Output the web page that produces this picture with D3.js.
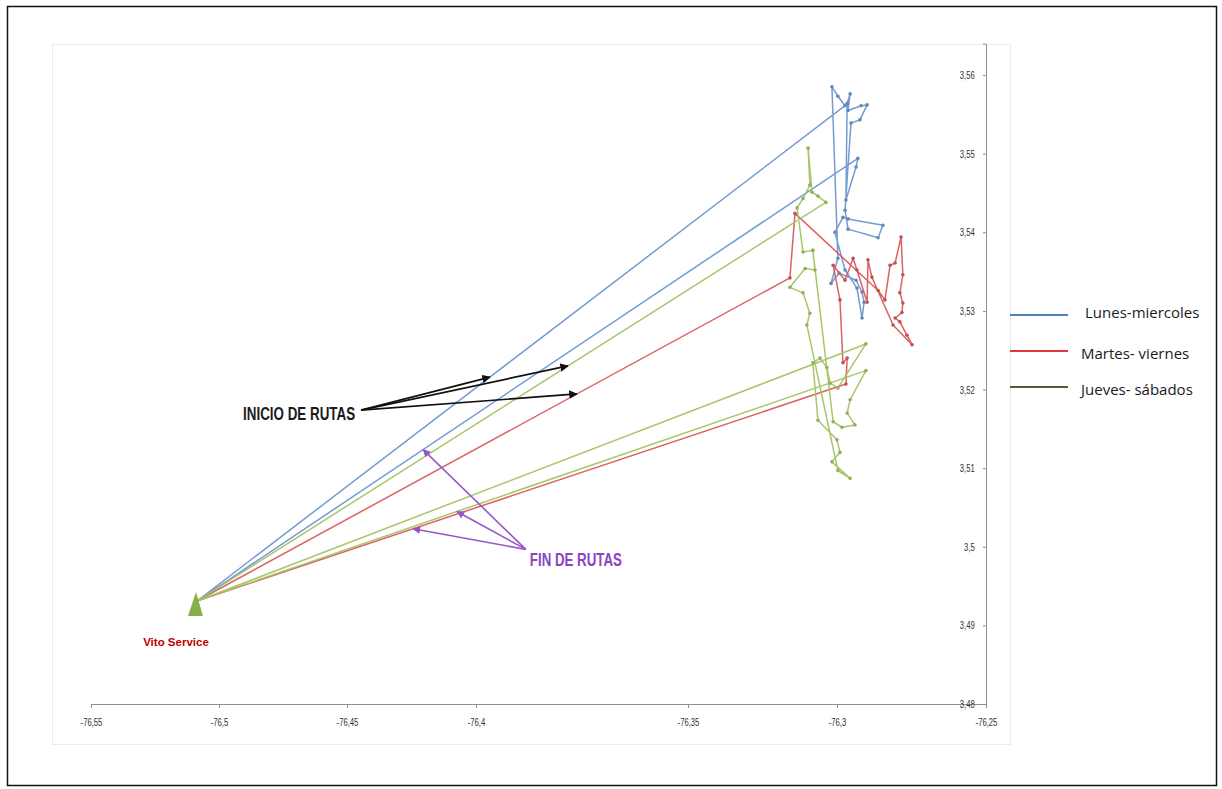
<!DOCTYPE html>
<html>
<head>
<meta charset="utf-8">
<script src="https://cdn.jsdelivr.net/npm/d3@7"></script>
<style>
  body { margin: 0; background: #fff; }
  svg { display: block; font-family: "Liberation Sans", Arial, sans-serif; }
</style>
</head>
<body>
<svg id="chart" width="1222" height="789"></svg>
<script>
// Axis ticks (longitude / latitude)
const xTicks = [-76.55, -76.5, -76.45, -76.4, -76.35, -76.3, -76.25];
const yTicks = [3.48, 3.49, 3.5, 3.51, 3.52, 3.53, 3.54, 3.55, 3.56];

// Depot
const depot = [-76.5086, 3.4931];
const depotName = "Vito Service";

// Route stops per day group, [longitude, latitude]; routes leave from and return to the depot
const lunesMiercoles = [
  depot,
  [-76.2973, 3.5561], [-76.2997, 3.5573], [-76.3017, 3.5585], [-76.2997, 3.5367],
  [-76.3020, 3.5335], [-76.2993, 3.5348], [-76.2936, 3.5339], [-76.2916, 3.5324],
  [-76.2909, 3.5311], [-76.2916, 3.5291], [-76.2933, 3.5329], [-76.2973, 3.5352],
  [-76.3007, 3.5400], [-76.2980, 3.5419], [-76.2963, 3.5417], [-76.2846, 3.5409],
  [-76.2862, 3.5393], [-76.2963, 3.5404], [-76.2973, 3.5428], [-76.2953, 3.5539],
  [-76.2923, 3.5543], [-76.2899, 3.5562], [-76.2919, 3.5561], [-76.2963, 3.5555],
  [-76.2956, 3.5576], [-76.2966, 3.5564], [-76.2970, 3.5441], [-76.2936, 3.5483],
  [-76.2930, 3.5494],
  depot
];

const martesViernes = [
  depot,
  [-76.3158, 3.5342], [-76.3141, 3.5424], [-76.2862, 3.5326], [-76.2839, 3.5314],
  [-76.2822, 3.5358], [-76.2805, 3.5361], [-76.2785, 3.5394], [-76.2779, 3.5346],
  [-76.2789, 3.5323], [-76.2779, 3.5310], [-76.2782, 3.5298], [-76.2805, 3.5291],
  [-76.2789, 3.5286], [-76.2765, 3.5269], [-76.2748, 3.5257], [-76.2812, 3.5282],
  [-76.2883, 3.5343], [-76.2896, 3.5365], [-76.2899, 3.5311], [-76.2933, 3.5352],
  [-76.2946, 3.5367], [-76.2973, 3.5339], [-76.3013, 3.5358], [-76.2990, 3.5314],
  [-76.2980, 3.5234], [-76.2966, 3.5240], [-76.2970, 3.5207],
  depot
];

const juevesSabados = [
  depot,
  [-76.3037, 3.5438], [-76.3064, 3.5446], [-76.3084, 3.5451], [-76.3097, 3.5507],
  [-76.3091, 3.5460], [-76.3114, 3.5443], [-76.3134, 3.5431], [-76.3114, 3.5375],
  [-76.3081, 3.5377], [-76.3074, 3.5352], [-76.3107, 3.5354], [-76.3158, 3.5330],
  [-76.3114, 3.5323], [-76.3091, 3.5297], [-76.3101, 3.5282], [-76.2997, 3.5097],
  [-76.2956, 3.5087], [-76.3017, 3.5108], [-76.2990, 3.5120], [-76.3000, 3.5136],
  [-76.3064, 3.5161], [-76.3081, 3.5234], [-76.3057, 3.5240], [-76.3034, 3.5228],
  [-76.3023, 3.5208], [-76.2997, 3.5202], [-76.2903, 3.5258],
  depot,
  [-76.2903, 3.5224], [-76.2956, 3.5187], [-76.2966, 3.5170], [-76.2940, 3.5155],
  [-76.2983, 3.5152], [-76.3013, 3.5159], [-76.3081, 3.5377]
];

const seriesNames = ["Lunes-miercoles", "Martes- viernes", "Jueves- sábados"];
const seriesStops = [lunesMiercoles, martesViernes, juevesSabados];
const seriesColors = ["#6d97cf", "#d9595a", "#a3c364"];
const legendColors = ["#4f81bd", "#e0383a", "#4e5c3e"];

// Callouts: arrow tips sit on the segment depot -> stop, at the given longitude
const inicioLabel = { text: "INICIO DE RUTAS", lon: -76.4906, lat: 3.5161 };
const inicioArrows = [
  { serie: 0, stop: 1, lon: -76.3967 },
  { serie: 2, stop: 1, lon: -76.3783 },
  { serie: 1, stop: 1, lon: -76.3762 }
];
const finLabel = { text: "FIN DE RUTAS", lon: -76.3873, lat: 3.4975 };
const finArrows = [
  { serie: 0, stop: 29, lon: -76.4205 },
  { serie: 2, stop: 29, lon: -76.4074 },
  { serie: 1, stop: 27, lon: -76.4244 }
];

const comma = d => String(d).replace(".", ",");

const svg = d3.select("#chart");

// outer frame and plot area
svg.append("rect").attr("x", 7.5).attr("y", 6.5).attr("width", 1209).attr("height", 779)
  .attr("fill", "none").attr("stroke", "#111").attr("stroke-width", 1.5);
svg.append("rect").attr("x", 52.5).attr("y", 44.5).attr("width", 958).attr("height", 700)
  .attr("fill", "none").attr("stroke", "#ececec");

// scales: the longitude axis keeps the spacing of its printed ticks
const x = d3.scaleLinear().domain(xTicks).range([91, 219, 347, 476, 688, 837, 986]);
const y = d3.scaleLinear().domain([3.48, 3.564]).range([704, 43.6]);

// x axis
const gx = svg.append("g").attr("transform", "translate(0,704)")
  .call(d3.axisBottom(x).tickValues(xTicks).tickSize(4).tickPadding(10).tickFormat(comma));
// y axis on the right edge of the plot
const gy = svg.append("g").attr("transform", `translate(${x(-76.25)},0)`)
  .call(d3.axisLeft(y).tickValues(yTicks).tickSize(3).tickPadding(12).tickFormat(comma));

[gx, gy].forEach(g => {
  g.select(".domain").attr("stroke", "#8f8f8f");
  g.selectAll(".tick line").attr("stroke", "#8f8f8f");
  g.selectAll(".tick text")
    .attr("fill", "#333")
    .style("font-size", "11px")
    .style("font-family", "'Liberation Sans', Arial, sans-serif");
});
gx.selectAll(".tick text").attr("transform", "scale(0.7,1)");
gy.selectAll(".tick text").attr("transform", "scale(0.7,1)").attr("x", -16);

// routes
const line = d3.line().x(d => x(d[0])).y(d => y(d[1]));
seriesStops.forEach((stops, i) => {
  svg.append("path")
    .datum(stops)
    .attr("d", line)
    .attr("fill", "none")
    .attr("stroke", seriesColors[i])
    .attr("stroke-width", 1.5)
    .attr("stroke-linejoin", "round")
    .attr("opacity", 0.95);
  svg.append("g").selectAll("circle")
    .data(stops.filter(p => p !== depot))
    .join("circle")
    .attr("cx", d => x(d[0]))
    .attr("cy", d => y(d[1]))
    .attr("r", 1.8)
    .attr("fill", d3.color(seriesColors[i]).darker(0.3));
});

// depot marker and name
const dx = x(depot[0]), dy = y(depot[1]);
svg.append("path")
  .attr("d", `M${dx - 1},${dy - 9} L${dx + 6},${dy + 15} L${dx - 9},${dy + 15} Z`)
  .attr("fill", "#86b04a");
svg.append("text")
  .attr("x", dx - 21).attr("y", dy + 45)
  .attr("text-anchor", "middle")
  .attr("fill", "#c00000")
  .style("font-weight", "bold").style("font-size", "11.5px")
  .text(depotName);

// arrow markers
const defs = svg.append("defs");
[["arrowBlack", "#111"], ["arrowPurple", "#9457c8"]].forEach(([id, c]) => {
  defs.append("marker").attr("id", id)
    .attr("viewBox", "0 0 10 10").attr("refX", 9).attr("refY", 5)
    .attr("markerWidth", 5).attr("markerHeight", 5).attr("orient", "auto")
    .append("path").attr("d", "M0,0 L10,5 L0,10 Z").attr("fill", c);
});

function tipOn(a) {
  const stop = seriesStops[a.serie][a.stop];
  const x0 = x(depot[0]), y0 = y(depot[1]);
  const x1 = x(stop[0]), y1 = y(stop[1]);
  const tx = x(a.lon);
  const t = (tx - x0) / (x1 - x0);
  return [tx, y0 + t * (y1 - y0)];
}

// INICIO DE RUTAS
const ix = x(inicioLabel.lon), iy = y(inicioLabel.lat);
svg.append("text")
  .attr("x", ix).attr("y", iy)
  .attr("textLength", 112).attr("lengthAdjust", "spacingAndGlyphs")
  .attr("fill", "#1b1b1b")
  .style("font-weight", "bold").style("font-size", "19px")
  .text(inicioLabel.text);
inicioArrows.forEach(a => {
  const [tx, ty] = tipOn(a);
  svg.append("line")
    .attr("x1", ix + 118).attr("y1", iy - 10)
    .attr("x2", tx).attr("y2", ty)
    .attr("stroke", "#111").attr("stroke-width", 1.7)
    .attr("marker-end", "url(#arrowBlack)");
});

// FIN DE RUTAS
const fx = x(finLabel.lon), fy = y(finLabel.lat);
svg.append("text")
  .attr("x", fx).attr("y", fy)
  .attr("textLength", 92).attr("lengthAdjust", "spacingAndGlyphs")
  .attr("fill", "#8a45c0")
  .style("font-weight", "bold").style("font-size", "18px")
  .text(finLabel.text);
finArrows.forEach(a => {
  const [tx, ty] = tipOn(a);
  svg.append("line")
    .attr("x1", fx - 4).attr("y1", fy - 17)
    .attr("x2", tx).attr("y2", ty)
    .attr("stroke", "#9457c8").attr("stroke-width", 1.6)
    .attr("marker-end", "url(#arrowPurple)");
});

// legend
const legend = svg.append("g").attr("transform", "translate(1010,315)");
seriesNames.forEach((name, i) => {
  const row = legend.append("g").attr("transform", `translate(0,${i * 36})`);
  row.append("line").attr("x1", 0).attr("x2", 58).attr("y1", 0).attr("y2", 0)
    .attr("stroke", legendColors[i]).attr("stroke-width", 2);
  row.append("text")
    .attr("x", i === 0 ? 75 : 71).attr("y", i === 0 ? 3 : 8)
    .attr("fill", "#1a1a1a")
    .style("font-family", "'Open Sans', sans-serif").style("font-size", "15px")
    .text(name);
});
</script>
</body>
</html>
